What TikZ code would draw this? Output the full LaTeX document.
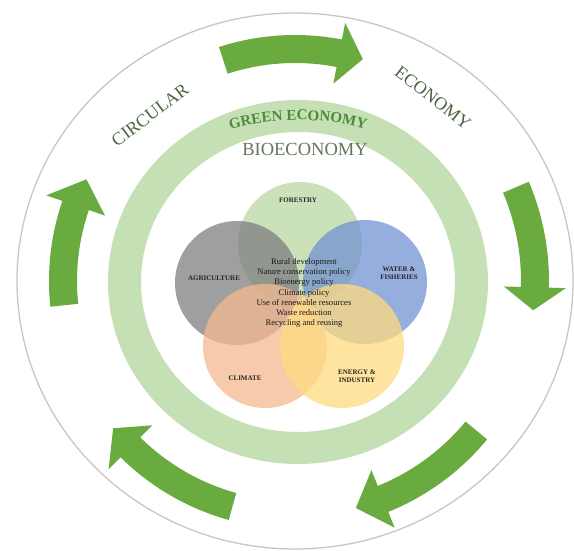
\documentclass[tikz,border=0pt]{standalone}
\usepackage{fontspec}
\setmainfont{Liberation Serif}
\usetikzlibrary{decorations.text}
\definecolor{cyclegreen}{HTML}{6AAB3F}
\definecolor{ringgreen}{HTML}{C5E0B4}
\definecolor{ringtext}{HTML}{4E8A3A}
\definecolor{cycletext}{HTML}{4B6542}
\definecolor{biotext}{HTML}{66775E}
\definecolor{forestfill}{HTML}{B9D7A4}
\definecolor{agrifill}{HTML}{7F7F80}
\definecolor{waterfill}{HTML}{7393D3}
\definecolor{climfill}{HTML}{F4B98F}
\definecolor{energyfill}{HTML}{FFDB80}

\begin{document}
\begin{tikzpicture}[x=1pt,y=1pt,
  venn/.style={fill opacity=0.75},
  sector/.style={font=\fontsize{7}{8}\selectfont\bfseries,text=black!85,align=center},
  bigword/.style={text=cycletext,font=\fontsize{18}{20}\selectfont}]
  \useasboundingbox (0,0) rectangle (574,550);
  \fill[white] (0,0) rectangle (574,550);
  % outer ring of the cycle
  \draw[black!22,line width=1.3] (295,269) ellipse [x radius=278,y radius=268];
  % curved arrows: tail angle / head base angle / tip angle / radius
  \begin{scope}[shift={(295,269)}]
    \foreach \ta/\ba/\pa/\r in {108/79/73/232,23/-1.5/-7/240,-39.5/-68/-75/235,-105.5/-134.7/-141/234,186/161/154/232}
      \fill[cyclegreen] (\ta:\r+14) arc[start angle=\ta,end angle=\ba,radius=\r+14]
        -- (\ba:\r+31) -- (\pa:\r) -- (\ba:\r-31) -- (\ba:\r-14)
        arc[start angle=\ba,end angle=\ta,radius=\r-14] -- cycle;
  \end{scope}
  \node[bigword,rotate=37] (circular) at (150,435) {CIRCULAR};
  \node[bigword,rotate=-38] (economy) at (433,452) {ECONOMY};
  % green economy band
  \fill[ringgreen,even odd rule] (298,268) ellipse [x radius=190,y radius=182]
    (298,268) ellipse [x radius=157,y radius=150];
  \path[decorate,decoration={text along path,text align=center,text color=ringtext,
      text={|\fontsize{15}{15}\selectfont\bfseries|GREEN ECONOMY}}]
    (298,182) ++(108:248) arc[start angle=108,end angle=72,radius=248];
  \node[text=biotext,font=\fontsize{18.5}{20}\selectfont] (bio) at (305,401) {BIOECONOMY};
  % sectors
  \fill[venn,forestfill] (300,306) circle (62);
  \fill[venn,agrifill] (237,267) circle (62);
  \fill[venn,waterfill] (365,268) circle (62);
  \fill[venn,climfill] (265,204) circle (62);
  \fill[venn,energyfill] (342,204) circle (62);
  \node[sector] (forestry) at (298,350) {FORESTRY};
  \node[sector] (agri) at (214,272) {AGRICULTURE};
  \node[sector] (water) at (399,277) {WATER \&\\FISHERIES};
  \node[sector] (climate) at (245,172) {CLIMATE};
  \node[sector] (energy) at (357,174) {ENERGY \&\\INDUSTRY};
  \node[align=center,text=black!90,font=\fontsize{8.6}{10.3}\selectfont] (policies) at (304,257)
    {Rural development\\Nature conservation policy\\Bioenergy policy\\Climate policy\\
     Use of renewable resources\\Waste reduction\\Recycling and reusing};
\end{tikzpicture}
\end{document}
